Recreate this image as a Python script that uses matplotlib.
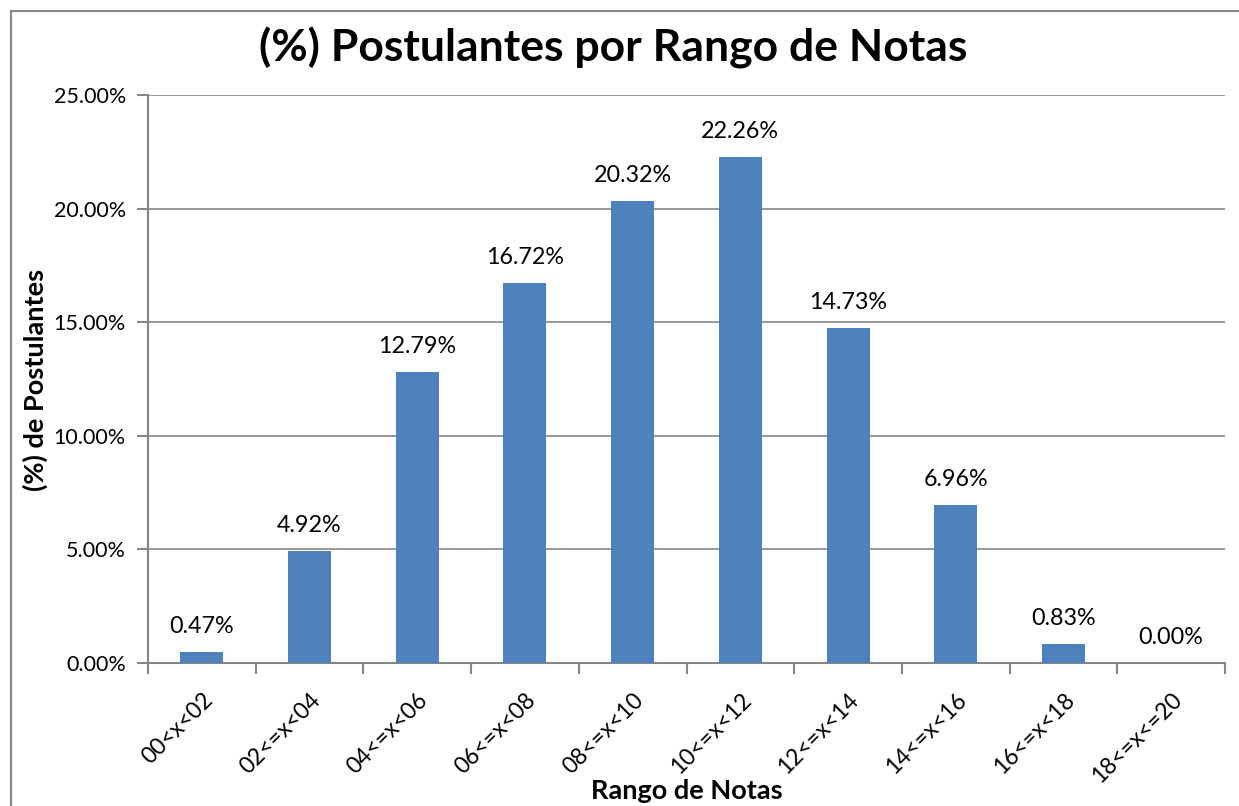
import matplotlib
matplotlib.use("Agg")
from matplotlib import pyplot as plt
from matplotlib.patches import Rectangle
from matplotlib.ticker import FuncFormatter, MultipleLocator
import numpy as np

rangos = ["00<x<02", "02<=x<04", "04<=x<06", "06<=x<08", "08<=x<10",
          "10<=x<12", "12<=x<14", "14<=x<16", "16<=x<18", "18<=x<=20"]
porcentajes = [0.47, 4.92, 12.79, 16.72, 20.32, 22.26, 14.73, 6.96, 0.83, 0.00]

plt.rcParams['font.family'] = ['Lato', 'DejaVu Sans']

fig = plt.figure(figsize=(12.39, 8.06), dpi=100)
ax = fig.add_axes([148/1239, 1 - 663/806, (1225-148)/1239, (663-95)/806])

# borde del grafico (estilo Excel)
fig.patches.append(Rectangle((11/1239, -0.1), 1.2, 1 - 11/806 + 0.1,
                             transform=fig.transFigure, fill=False,
                             edgecolor="#868686", linewidth=1.5))

x = np.arange(len(rangos))
ax.bar(x, porcentajes, width=0.4, color="#4F81BD", zorder=3)

for xi, v in zip(x, porcentajes):
    ax.annotate(f"{v:.2f}%", (xi, v), xytext=(0, 11), textcoords="offset points",
                ha="center", va="bottom", fontsize=16.8)

ax.set_xlim(-0.5, len(rangos) - 0.5)
ax.set_ylim(0, 25)
ax.yaxis.set_major_locator(MultipleLocator(5))
ax.yaxis.set_major_formatter(FuncFormatter(lambda v, p: f"{v:.2f}%"))
ax.grid(axis="y", color="#868686", linewidth=1.2, zorder=0)

# ticks entre categorias
ax.set_xticks(np.arange(len(rangos) + 1) - 0.5, minor=False)
ax.set_xticklabels([])
ax.set_xticks(x, minor=True)
ax.set_xticklabels(rangos, minor=True, rotation=45, ha="right",
                   rotation_mode="anchor", fontsize=16.5)
ax.tick_params(axis="x", which="minor", length=0, pad=19)
ax.tick_params(axis="x", which="major", length=8, width=1.5, color="#868686")
ax.tick_params(axis="y", length=8, width=1.5, color="#868686", labelsize=15.5, pad=8)

for s in ["top", "right"]:
    ax.spines[s].set_visible(False)
for s in ["left", "bottom"]:
    ax.spines[s].set_color("#868686")
    ax.spines[s].set_linewidth(1.5)

fig.text(613/1239, 1 - 48/806, "(%) Postulantes por Rango de Notas",
         ha="center", va="center", fontsize=32, fontweight="bold")
fig.text(687/1239, 1 - 791/806, "Rango de Notas", ha="center", va="center",
         fontsize=19.5, fontweight="bold")
fig.text(35/1239, 1 - 380/806, "(%) de Postulantes", ha="center", va="center",
         rotation=90, fontsize=19.5, fontweight="bold")

fig.savefig("out.png", dpi=100)
